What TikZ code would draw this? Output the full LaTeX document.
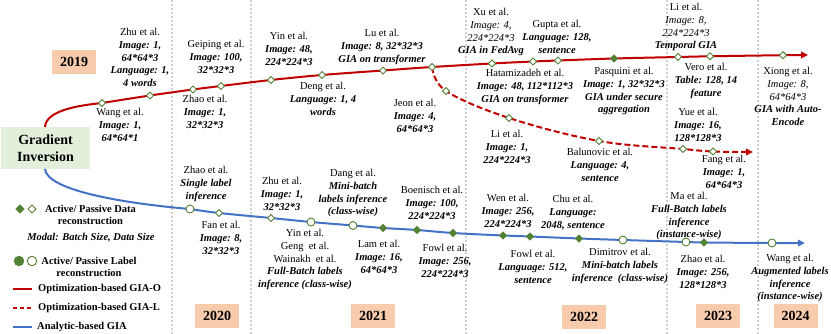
\documentclass[tikz,border=0pt]{standalone}
\usepackage{fontspec}
\setmainfont{Liberation Serif}
\usetikzlibrary{shapes.geometric,arrows.meta}
\definecolor{gred}{HTML}{C00000}
\definecolor{gblue}{HTML}{4472C4}
\definecolor{ggreen}{HTML}{548235}
\definecolor{peach}{HTML}{F8CBAD}
\definecolor{lgreen}{HTML}{E2EFDA}
\definecolor{sepgray}{HTML}{D0D0D0}
\newcommand{\bfit}[1]{\textbf{\textit{#1}}}
\newcommand{\itx}[1]{\textit{#1}}
\tikzset{
  lab/.style={align=center, inner sep=0pt, anchor=north, font=\fontsize{10.5}{12.8}\selectfont},
  hd/.style={diamond, aspect=1, draw=ggreen, fill=white, line width=0.9pt, inner sep=0pt, minimum size=7.5pt},
  fd/.style={hd, fill=ggreen},
  hc/.style={circle, draw=ggreen, fill=white, line width=0.9pt, inner sep=0pt, minimum size=8pt},
  fc/.style={hc, fill=ggreen},
  yearbox/.style={fill=peach, minimum width=44pt, minimum height=24pt, inner sep=0pt, font=\fontsize{14}{16}\selectfont\bfseries},
  sepline/.style={draw=sepgray, line width=2pt, dash pattern=on 2pt off 2pt},
  redline/.style={draw=gred, line width=2pt},
  reddash/.style={draw=gred, line width=2pt, dash pattern=on 6pt off 3pt},
  blueline/.style={draw=gblue, line width=2pt},
  tip/.style={-{Triangle[length=7pt,width=6.5pt]}},
  legtext/.style={inner sep=0pt, anchor=west, font=\fontsize{10.5}{12.6}\selectfont\bfseries},
}
\begin{document}
\begin{tikzpicture}[x=1pt,y=-1pt]
\useasboundingbox (0,0) rectangle (831,334);
% separators
\foreach \sx in {172,251,466,667,758} {\draw[sepline] (\sx,0) -- (\sx,334);}
% main box
\node[fill=lgreen, minimum width=89pt, minimum height=42pt, inner sep=0pt, align=center,
      font=\fontsize{14}{16.5}\selectfont\bfseries] (gi) at (45.5,148) {Gradient\\Inversion};
% year boxes
\node[yearbox] (y2019) at (74,62) {2019};
\node[yearbox] (y2020) at (217,315.5) {2020};
\node[yearbox] (y2021) at (373,316) {2021};
\node[yearbox] (y2022) at (584,316.5) {2022};
\node[yearbox] (y2023) at (718,316) {2023};
\node[yearbox] (y2024) at (795.5,316) {2024};
% curve points: optimization-based GIA-O
\coordinate (r0) at (45,127);
\coordinate (r1) at (102,103);
\coordinate (r2) at (150,95.5);
\coordinate (r3) at (193,89.5);
\coordinate (r4) at (221,86);
\coordinate (r5) at (271,80);
\coordinate (r6) at (322,75);
\coordinate (r7) at (383,70.5);
\coordinate (r8) at (432,67);
\coordinate (r9) at (492,63.5);
\coordinate (r10) at (533,61.5);
\coordinate (r11) at (558,60.5);
\coordinate (r12) at (614,58.5);
\coordinate (r13) at (678,57);
\coordinate (r14) at (710,56.3);
\coordinate (r15) at (783,55.2);
\coordinate (rend) at (808,55);
% GIA-L
\coordinate (d1) at (446,91);
\coordinate (d2) at (509,118);
\coordinate (d3) at (599,141);
\coordinate (d4) at (683,149);
\coordinate (d5) at (713,151.5);
\coordinate (dend) at (753,152);
% analytic
\coordinate (b0) at (45,169);
\coordinate (b1) at (190,209);
\coordinate (b2) at (219,213);
\coordinate (b3) at (271,218);
\coordinate (b4) at (311,222);
\coordinate (b5) at (353,225.5);
\coordinate (b6) at (383,228);
\coordinate (b7) at (417,230);
\coordinate (b8) at (453,233);
\coordinate (b9) at (503,235.5);
\coordinate (b10) at (530,236.5);
\coordinate (b11) at (579,238.5);
\coordinate (b12) at (623,240);
\coordinate (b13) at (686,242);
\coordinate (b14) at (704,242.5);
\coordinate (b15) at (772,243);
\coordinate (bend) at (805,243);
% curves
\draw[redline] (r0) .. controls (46,112) and (72,106) .. (r1);
\draw[redline, tip] plot[smooth, tension=0.6] coordinates {(r1) (r2) (r3) (r4) (r5) (r6) (r7) (r8) (r9) (r10) (r11) (r12) (r13) (r14) (r15) (rend)};
\draw[reddash, tip] plot[smooth, tension=0.6] coordinates {(r8) (d1) (d2) (d3) (d4) (d5) (dend)};
\draw[blueline] (b0) .. controls (47,190) and (120,203) .. (b1);
\draw[blueline, tip] plot[smooth, tension=0.6] coordinates {(b1) (b2) (b3) (b4) (b5) (b6) (b7) (b8) (b9) (b10) (b11) (b12) (b13) (b14) (b15) (bend)};
% markers red
\node[hd] (mr1) at (r1) {};
\node[hd] (mr2) at (r2) {};
\node[hd] (mr3) at (r3) {};
\node[hd] (mr4) at (r4) {};
\node[hd] (mr5) at (r5) {};
\node[hd] (mr6) at (r6) {};
\node[hd] (mr7) at (r7) {};
\node[hd] (mr8) at (r8) {};
\node[hd] (mr9) at (r9) {};
\node[hd] (mr10) at (r10) {};
\node[hd] (mr11) at (r11) {};
\node[fd] (mr12) at (r12) {};
\node[hd] (mr13) at (r13) {};
\node[hd] (mr14) at (r14) {};
\node[hd] (mr15) at (r15) {};
\node[hd] (md1) at (d1) {};
\node[hd] (md2) at (d2) {};
\node[hd] (md3) at (d3) {};
\node[hd] (md4) at (d4) {};
\node[hd] (md5) at (d5) {};
% markers blue
\node[hc] (mb1) at (b1) {};
\node[hd] (mb2) at (b2) {};
\node[hd] (mb3) at (b3) {};
\node[hc] (mb4) at (b4) {};
\node[hc] (mb5) at (b5) {};
\node[fd] (mb6) at (b6) {};
\node[fd] (mb7) at (b7) {};
\node[fd] (mb8) at (b8) {};
\node[fd] (mb9) at (b9) {};
\node[fd] (mb10) at (b10) {};
\node[fd] (mb11) at (b11) {};
\node[hc] (mb12) at (b12) {};
\node[hc] (mb13) at (b13) {};
\node[fd] (mb14) at (b14) {};
\node[hc] (mb15) at (b15) {};
% labels red
\node[lab] (l1) at (140,28) {Zhu et al.\\\bfit{Image: 1,}\\\bfit{64*64*3}\\\bfit{Language: 1,}\\\bfit{4 words}};
\node[lab] (l2) at (120,108) {Wang et al.\\\bfit{Image: 1,}\\\bfit{64*64*1}};
\node[lab] (l3) at (216,40) {Geiping et al.\\\bfit{Image: 100,}\\\bfit{32*32*3}};
\node[lab] (l4) at (205,95) {Zhao et al.\\\bfit{Image: 1,}\\\bfit{32*32*3}};
\node[lab] (l5) at (289,32) {Yin et al.\\\bfit{Image: 48,}\\\bfit{224*224*3}};
\node[lab] (l6) at (323,82) {Deng et al.\\\bfit{Language: 1, 4}\\\bfit{words}};
\node[lab] (l7) at (382,29) {Lu et al.\\\bfit{Image: 8, 32*32*3}\\\bfit{GIA on transformer}};
\node[lab] (l8) at (415,99) {Jeon et al.\\\bfit{Image: 4,}\\\bfit{64*64*3}};
\node[lab] (l9) at (491,8) {Xu et al.\\\itx{Image: 4,}\\\itx{224*224*3}\\\bfit{GIA in FedAvg}};
\node[lab] (l10) at (557,20) {Gupta et al.\\\bfit{Language: 128,}\\\bfit{sentence}};
\node[lab] (l11) at (525,69) {Hatamizadeh et al.\\\bfit{Image: 48, 112*112*3}\\\bfit{GIA on transformer}};
\node[lab] (l12) at (624,67) {Pasquini et al.\\\bfit{Image: 1, 32*32*3}\\\bfit{GIA under secure}\\\bfit{aggregation}};
\node[lab] (l13) at (686,3) {Li et al.\\\itx{Image: 8,}\\\itx{224*224*3}\\\bfit{Temporal GIA}};
\node[lab] (l14) at (706,63) {Vero et al.\\\bfit{Table: 128, 14}\\\bfit{feature}};
\node[lab] (l15) at (788,67) {Xiong et al.\\\itx{Image: 8,}\\\itx{64*64*3}\\\bfit{GIA with Auto-}\\\bfit{Encode}};
\node[lab] (l16) at (698,108) {Yue et al.\\\bfit{Image: 16,}\\\bfit{128*128*3}};
\node[lab] (l17) at (724,155) {Fang et al.\\\bfit{Image: 1,}\\\bfit{64*64*3}};
\node[lab] (l18) at (507,130) {Li et al.\\\bfit{Image: 1,}\\\bfit{224*224*3}};
\node[lab] (l19) at (600,148) {Balunovic et al.\\\bfit{Language: 4,}\\\bfit{sentence}};
% labels blue
\node[lab] (l20) at (206,166) {Zhao et al.\\\bfit{Single label}\\\bfit{inference}};
\node[lab] (l21) at (221,221) {Fan et al.\\\bfit{Image: 8,}\\\bfit{32*32*3}};
\node[lab] (l22) at (282,177) {Zhu et al.\\\bfit{Image: 1,}\\\bfit{32*32*3}};
\node[lab] (l23) at (353,169) {Dang et al.\\\bfit{Mini-batch}\\\bfit{labels inference}\\\bfit{(class-wise)}};
\node[lab] (l24) at (432,186) {Boenisch et al.\\\bfit{Image: 100,}\\\bfit{224*224*3}};
\node[lab] (l25) at (305,229) {Yin et al.\\Geng\ \ et al.\\Wainakh\ \ et al.\\\bfit{Full-Batch labels}\\\bfit{inference (class-wise)}};
\node[lab] (l26) at (379,240) {Lam et al.\\\bfit{Image: 16,}\\\bfit{64*64*3}};
\node[lab] (l27) at (445,244) {Fowl et al.\\\bfit{Image: 256,}\\\bfit{224*224*3}};
\node[lab] (l28) at (508,194) {Wen et al.\\\bfit{Image: 256,}\\\bfit{224*224*3}};
\node[lab] (l29) at (573,195) {Chu et al.\\\bfit{Language:}\\\bfit{2048, sentence}};
\node[lab] (l30) at (533,250) {Fowl et al.\\\bfit{Language: 512,}\\\bfit{sentence}};
\node[lab] (l31) at (620,248) {Dimitrov et al.\\\bfit{Mini-batch labels}\\\bfit{inference\ \ (class-wise)}};
\node[lab] (l32) at (689,192) {Ma et al.\\\bfit{Full-Batch labels}\\\bfit{inference}\\\bfit{(instance-wise)}};
\node[lab] (l33) at (703,255) {Zhao et al.\\\bfit{Image: 256,}\\\bfit{128*128*3}};
\node[lab] (l34) at (790,254) {Wang et al.\\\bfit{Augmented labels}\\\bfit{inference}\\\bfit{(instance-wise)}};
% legend
\node[fd, minimum size=8.5pt] (lgd1) at (20,209) {};
\node[hd, minimum size=8.5pt] (lgd2) at (32,209) {};
\node[lab, font=\fontsize{10.5}{12}\selectfont\bfseries] (lgt1) at (90.5,205) {Active/ Passive Data\\reconstruction};
\node[lab] (lgt2) at (91,233) {\bfit{Modal: Batch Size, Data Size}};
\node[fc, minimum size=9.5pt] (lgc1) at (19,261) {};
\node[hc, minimum size=9.5pt] (lgc2) at (32,261) {};
\node[lab, font=\fontsize{10.5}{12}\selectfont\bfseries] (lgt3) at (89,257) {Active/ Passive Label\\reconstruction};
\coordinate (lga1) at (13,289); \coordinate (lgb1) at (32,289);
\coordinate (lga2) at (13,308); \coordinate (lgb2) at (32,308);
\coordinate (lga3) at (13,327); \coordinate (lgb3) at (32,327);
\draw[redline] (lga1) -- (lgb1);
\draw[draw=gred, line width=2pt, dash pattern=on 4pt off 3pt] (lga2) -- (lgb2);
\draw[blueline] (lga3) -- (lgb3);
\node[legtext] (lgt4) at (38,289) {Optimization-based GIA-O};
\node[legtext] (lgt5) at (38,308) {Optimization-based GIA-L};
\node[legtext] (lgt6) at (37,327) {Analytic-based GIA};
\end{tikzpicture}
\end{document}
